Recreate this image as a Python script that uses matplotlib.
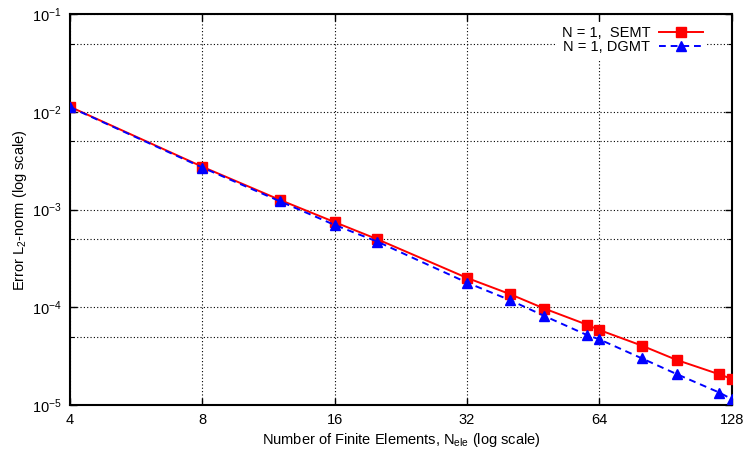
import matplotlib
matplotlib.use("Agg")
import matplotlib.pyplot as plt
from matplotlib.ticker import FixedLocator, FixedFormatter, NullFormatter
import numpy as np

plt.rcParams['font.family'] = ['Liberation Sans', 'DejaVu Sans']
plt.rcParams['mathtext.default'] = 'regular'
plt.rcParams['font.size'] = 10.5

n_ele = [4, 8, 12, 16, 20, 32, 40, 48, 60, 64, 80, 96, 120, 128]
err_semt = [1.13e-2, 2.75e-3, 1.26e-3, 7.45e-4, 4.98e-4, 2.0e-4, 1.37e-4, 9.7e-5,
            6.64e-5, 5.86e-5, 4.05e-5, 2.89e-5, 2.06e-5, 1.85e-5]
err_dgmt = [1.12e-2, 2.70e-3, 1.22e-3, 6.97e-4, 4.71e-4, 1.79e-4, 1.19e-4, 8.15e-5,
            5.2e-5, 4.7e-5, 3.0e-5, 2.07e-5, 1.34e-5, 1.15e-5]
x_ticks = [4, 8, 16, 32, 64, 128]
x_tick_labels = ['4', '8', '16', '32', '64', '128']
y_ticks = [1e-5, 1e-4, 1e-3, 1e-2, 1e-1]
y_tick_labels = ['$10^{-5}$', '$10^{-4}$', '$10^{-3}$', '$10^{-2}$', '$10^{-1}$']
y_minor = [5e-5, 5e-4, 5e-3, 5e-2]
label_semt = 'N = 1,  SEMT'
label_dgmt = 'N = 1, DGMT'

fig = plt.figure(figsize=(7.47, 4.55), dpi=100)
ax = fig.add_axes([0.0937, 0.1099, 0.9795 - 0.0937, 0.9686 - 0.1099])

ax.plot(n_ele, err_semt, color='#ff0000', lw=1.4, marker='s', ms=7.2,
        label=label_semt, zorder=3)
ax.plot(n_ele, err_dgmt, color='#0000ff', lw=1.4, ls=(0, (3.5, 2.5)), marker='^', ms=7.8,
        label=label_dgmt, zorder=4)

ax.set_xscale('log', base=2)
ax.set_yscale('log')
ax.set_xlim(4, 128)
ax.set_ylim(1e-5, 1e-1)

ax.xaxis.set_major_locator(FixedLocator(x_ticks))
ax.xaxis.set_major_formatter(FixedFormatter(x_tick_labels))
ax.xaxis.set_minor_locator(FixedLocator([]))
ax.yaxis.set_major_locator(FixedLocator(y_ticks))
ax.yaxis.set_major_formatter(FixedFormatter(y_tick_labels))
ax.yaxis.set_minor_locator(FixedLocator(y_minor))
ax.yaxis.set_minor_formatter(NullFormatter())

ax.tick_params(which='major', direction='in', length=5, width=1.0, top=True, right=True,
               labelsize=10.5, pad=6)
ax.tick_params(which='minor', direction='in', length=3, width=0.8, top=True, right=True)

ax.grid(True, which='major', axis='both', color='black', ls=(0, (1, 2)), lw=0.8)
ax.grid(True, which='minor', axis='y', color='black', ls=(0, (1, 2)), lw=0.8)
ax.set_axisbelow(True)

for s in ax.spines.values():
    s.set_linewidth(1.5)

ax.set_xlabel('Number of Finite Elements, N$_{ele}$ (log scale)', fontsize=10.5, labelpad=3)
ax.set_ylabel('Error L$_2$-norm (log scale)', fontsize=10.5, labelpad=2)

leg = ax.legend(loc='upper right', bbox_to_anchor=(0.972, 0.995), frameon=True,
                fancybox=False, edgecolor='none',
                facecolor='white', framealpha=1.0, handlelength=3.0, markerfirst=False,
                borderaxespad=0.4, labelspacing=0.0, handletextpad=0.6, fontsize=10.5,
                borderpad=0.3)
for t in leg.get_texts():
    t.set_ha('right')
leg.set_zorder(5)

fig.savefig('out.png', dpi=100)
